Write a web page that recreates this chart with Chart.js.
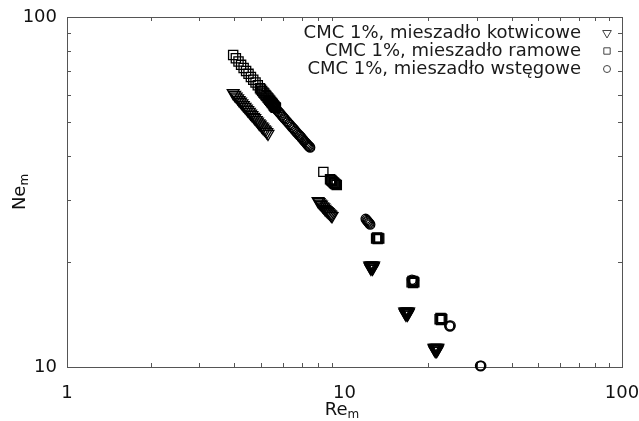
<!DOCTYPE html>
<html>
<head>
<meta charset="utf-8">
<script src="https://cdn.jsdelivr.net/npm/chart.js@4.4.1/dist/chart.umd.min.js"></script>
<style>
  html, body { margin: 0; padding: 0; background: #fff; }
  canvas { display: block; }
</style>
</head>
<body>
<canvas id="chart" width="639" height="421"></canvas>
<script>
// tick positions (log axes)
const xTicks = [1, 10, 100];
const yTicks = [10, 100];
const xMinor = [2, 3, 4, 5, 6, 7, 8, 9, 20, 30, 40, 50, 60, 70, 80, 90];
const yMinor = [20, 30, 40, 50, 60, 70, 80, 90];

const seriesNames = [
  'CMC 1%, mieszadło kotwicowe',
  'CMC 1%, mieszadło ramowe',
  'CMC 1%, mieszadło wstęgowe',
];

// anchor impeller (triangles)
const kotwRe = [3.97, 4.02, 4.07, 4.12, 4.17, 4.22, 4.27, 4.32, 4.38, 4.43, 4.48, 4.54, 4.59, 4.64, 4.70, 4.75, 4.81, 4.86, 4.92, 4.97, 5.03, 5.08, 5.14, 5.19, 5.25, 5.30,
  8.03, 8.10, 8.18, 8.26, 8.34, 8.42, 8.50, 8.58, 8.66, 8.74, 8.82, 8.90, 8.96, 9.02,
  12.32, 12.43, 12.53, 12.63, 12.74, 12.38, 12.53, 12.68, 12.45, 12.61,
  16.47, 16.61, 16.75, 16.89, 17.03, 16.54, 16.75, 16.96, 16.65, 16.85,
  21.00, 21.18, 21.36, 21.54, 21.71, 21.09, 21.36, 21.63, 21.23, 21.49];
const kotwNe = [60.6, 59.9, 59.3, 58.6, 57.9, 57.3, 56.7, 56.0, 55.4, 54.8, 54.2, 53.6, 53.0, 52.5, 51.9, 51.4, 50.8, 50.3, 49.7, 49.3, 48.7, 48.3, 47.8, 47.4, 46.9, 46.4,
  29.8, 29.6, 29.3, 29.1, 28.8, 28.6, 28.3, 28.1, 27.9, 27.7, 27.5, 27.3, 27.1, 27.0,
  19.50, 19.50, 19.50, 19.50, 19.50, 19.30, 19.30, 19.30, 19.10, 19.10,
  14.40, 14.40, 14.40, 14.40, 14.40, 14.26, 14.26, 14.26, 14.12, 14.12,
  11.34, 11.34, 11.34, 11.34, 11.34, 11.23, 11.23, 11.23, 11.12, 11.12];

// frame impeller (squares)
const ramRe = [3.97, 4.06, 4.15, 4.24, 4.33, 4.42, 4.51, 4.60, 4.69, 4.78, 4.87, 4.96, 5.00, 5.05, 5.10, 5.14, 5.19, 5.23, 5.28, 5.32, 5.36, 5.40, 5.44, 5.48, 5.52, 5.55, 5.58, 5.61, 5.64, 5.66,
  8.39, 8.87, 8.94, 9.00, 9.06, 9.12, 9.18, 9.24, 9.30, 9.38,
  13.00, 13.10, 13.17, 13.25, 13.34,
  17.45, 17.58, 17.66, 17.76, 17.85,
  22.02, 22.18, 22.27, 22.38, 22.50];
const ramNe = [77.9, 76.2, 74.6, 73.0, 71.5, 70.1, 68.8, 67.4, 66.2, 65.0, 63.8, 62.6, 62.1, 61.5, 60.9, 60.5, 59.9, 59.5, 58.9, 58.5, 58.0, 57.6, 57.2, 56.8, 56.4, 56.0, 55.7, 55.4, 55.2, 55.0,
  36.1, 34.4, 34.2, 34.05, 33.9, 33.7, 33.55, 33.4, 33.25, 33.1,
  23.30, 23.45, 23.20, 23.38, 23.30,
  17.45, 17.60, 17.38, 17.52, 17.45,
  13.70, 13.80, 13.62, 13.75, 13.70];

// ribbon impeller (circles)
const wstRe = [5.30, 5.36, 5.42, 5.49, 5.55, 5.62, 5.68, 5.74, 5.80, 5.87, 5.93, 6.00, 6.06, 6.12, 6.19, 6.25, 6.32, 6.38, 6.45, 6.51, 6.58, 6.64, 6.71, 6.77, 6.84, 6.90, 6.97, 7.03, 7.10, 7.16, 7.22, 7.28, 7.33, 7.38, 7.43, 7.48, 7.52,
  11.92, 12.00, 12.08, 12.15, 12.23, 12.30, 12.38,
  17.50, 17.60, 17.70, 17.80,
  23.85, 24.00, 24.12,
  30.80, 30.96, 31.10];
const wstNe = [58.0, 57.4, 56.8, 56.2, 55.6, 55.0, 54.5, 54.0, 53.5, 53.0, 52.4, 51.9, 51.4, 51.0, 50.4, 50.0, 49.5, 49.1, 48.6, 48.2, 47.8, 47.3, 46.9, 46.5, 46.1, 45.8, 45.4, 45.0, 44.6, 44.2, 43.9, 43.6, 43.3, 43.0, 42.8, 42.6, 42.4,
  26.5, 26.3, 26.15, 26.0, 25.85, 25.7, 25.55,
  17.75, 17.62, 17.55, 17.68,
  13.12, 13.06, 13.14,
  10.08, 10.05, 10.09];

const FONT = 'DejaVu Sans';

const toPoints = (xs, ys) => xs.map((v, i) => ({ x: v, y: ys[i] }));

const markerStyles = [
  { pointStyle: 'triangle', rotation: 180, radius: 6.8, legendRadius: 5 },
  { pointStyle: 'rect', rotation: 0, radius: 6.5, legendRadius: 4.5 },
  { pointStyle: 'circle', rotation: 0, radius: 4.6, legendRadius: 3.5 },
];

const makeSet = (label, xs, ys, m) => ({
  label: label,
  data: toPoints(xs, ys),
  pointStyle: m.pointStyle,
  rotation: m.rotation,
  pointRadius: m.radius,
  pointHoverRadius: m.radius,
  borderColor: '#000',
  backgroundColor: 'rgba(0,0,0,0)',
  borderWidth: 1.3,
  showLine: false,
  clip: false,
});

// frame, inward ticks, legend and axis titles
const decorPlugin = {
  id: 'decor',
  beforeDatasetsDraw(chart) {
    const { ctx, chartArea: a, scales } = chart;
    ctx.save();
    ctx.strokeStyle = '#555';
    ctx.lineWidth = 1;
    ctx.strokeRect(a.left + 0.5, a.top + 0.5, a.right - a.left, a.bottom - a.top);
    ctx.beginPath();
    xMinor.forEach((v) => {
      const px = Math.round(scales.x.getPixelForValue(v)) + 0.5;
      ctx.moveTo(px, a.bottom); ctx.lineTo(px, a.bottom - 4);
      ctx.moveTo(px, a.top); ctx.lineTo(px, a.top + 4);
    });
    yMinor.forEach((v) => {
      const py = Math.round(scales.y.getPixelForValue(v)) + 0.5;
      ctx.moveTo(a.left, py); ctx.lineTo(a.left + 4, py);
      ctx.moveTo(a.right, py); ctx.lineTo(a.right - 4, py);
    });
    ctx.stroke();
    ctx.restore();
  },
  afterDraw(chart) {
    const { ctx, chartArea: a } = chart;
    ctx.save();
    // legend: text right-aligned, marker to the right
    ctx.font = '18px "' + FONT + '"';
    ctx.textAlign = 'right';
    ctx.textBaseline = 'middle';
    seriesNames.forEach((name, i) => {
      const ly = a.top + 16 + i * 18;
      ctx.fillStyle = '#1a1a1a';
      ctx.fillText(name, 581, ly);
      const m = markerStyles[i];
      ctx.fillStyle = '#fff';
      ctx.strokeStyle = '#444';
      ctx.lineWidth = 1;
      Chart.helpers.drawPoint(ctx, {
        pointStyle: m.pointStyle, rotation: m.rotation, radius: m.legendRadius, borderWidth: 1,
      }, 607, ly);
    });

    // axis titles with subscript m
    const drawSub = (main, sub, cx, cy) => {
      ctx.font = '18px "' + FONT + '"';
      const w1 = ctx.measureText(main).width;
      ctx.font = '12px "' + FONT + '"';
      const w2 = ctx.measureText(sub).width;
      const x0 = cx - (w1 + w2) / 2;
      ctx.textAlign = 'left';
      ctx.textBaseline = 'alphabetic';
      ctx.fillStyle = '#111';
      ctx.font = '18px "' + FONT + '"';
      ctx.fillText(main, x0, cy + 6);
      ctx.font = '12px "' + FONT + '"';
      ctx.fillText(sub, x0 + w1, cy + 9);
    };
    drawSub('Re', 'm', 342, 409);
    ctx.save();
    ctx.translate(19, (a.top + a.bottom) / 2);
    ctx.rotate(-Math.PI / 2);
    drawSub('Ne', 'm', 0, 0);
    ctx.restore();
    ctx.restore();
  },
};

new Chart('chart', {
  type: 'scatter',
  data: {
    datasets: [
      makeSet(seriesNames[0], kotwRe, kotwNe, markerStyles[0]),
      makeSet(seriesNames[1], ramRe, ramNe, markerStyles[1]),
      makeSet(seriesNames[2], wstRe, wstNe, markerStyles[2]),
    ],
  },
  options: {
    responsive: false,
    animation: false,
    events: [],
    layout: { padding: { top: 17, right: 17, left: 0, bottom: 0 } },
    plugins: {
      legend: { display: false },
      tooltip: { enabled: false },
    },
    scales: {
      x: {
        type: 'logarithmic',
        min: 1,
        max: 100,
        afterBuildTicks: (s) => { s.ticks = xTicks.map((v) => ({ value: v })); },
        afterFit: (s) => { s.height = 54; s.paddingLeft = 0; s.paddingRight = 0; },
        grid: { display: false, drawTicks: false },
        border: { display: false },
        ticks: {
          font: { family: FONT, size: 18 },
          color: '#111',
          padding: 16,
          maxRotation: 0,
          autoSkip: false,
          callback: (v) => String(v),
        },
      },
      y: {
        type: 'logarithmic',
        min: 10,
        max: 100,
        afterBuildTicks: (s) => { s.ticks = yTicks.map((v) => ({ value: v })); },
        afterFit: (s) => { s.width = 67; s.paddingTop = 0; s.paddingBottom = 0; },
        grid: { display: false, drawTicks: false },
        border: { display: false },
        ticks: {
          font: { family: FONT, size: 18 },
          color: '#111',
          padding: 10,
          autoSkip: false,
          callback: (v) => String(v),
        },
      },
    },
  },
  plugins: [decorPlugin],
});
</script>
</body>
</html>
